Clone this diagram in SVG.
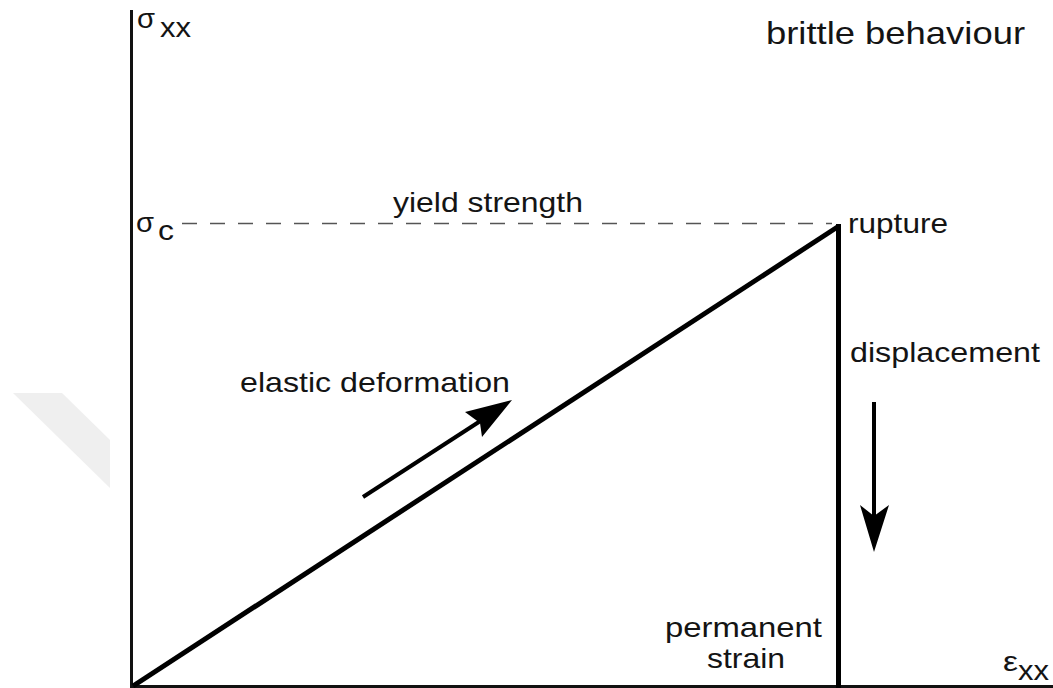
<svg xmlns="http://www.w3.org/2000/svg" width="1053" height="688" viewBox="0 0 1053 688">
<style>
text{font-family:"Liberation Sans",Arial,sans-serif;font-size:28px;fill:#141414}
.ax{stroke:#111;stroke-width:3;fill:none}
.thick{stroke:#000;stroke-width:5;fill:none;stroke-linecap:butt}
.arr{stroke:#000;stroke-width:4;fill:none}
.head{fill:#000}
</style>
<rect width="1053" height="688" fill="#fff"/>
<polygon id="watermark" points="13,393 62,393 110,440 110,488" fill="#efefef"/>
<g id="connectors">
  <line class="ax" x1="131.5" y1="10" x2="131.5" y2="688"/>
  <line class="ax" x1="130" y1="686.5" x2="1053" y2="686.5"/>
  <line x1="182" y1="223.5" x2="832" y2="223.5" stroke="#555" stroke-width="1.5" stroke-dasharray="15 13"/>
  <line class="thick" x1="133" y1="686" x2="839" y2="226"/>
  <line class="thick" x1="838.5" y1="224" x2="838.5" y2="688"/>
  <line class="arr" x1="363" y1="497" x2="485" y2="418"/>
  <polygon class="head" points="512,400 482,437 480,423 465,412"/>
  <line class="arr" x1="874" y1="402" x2="874" y2="520"/>
  <polygon class="head" points="874,552 860,505 874,516 889,505"/>
</g>
<g id="sigma-xx"><text x="137" y="28" textLength="18" lengthAdjust="spacingAndGlyphs">σ</text><text x="160" y="37" textLength="31" lengthAdjust="spacingAndGlyphs">xx</text></g>
<g id="sigma-c"><text x="136" y="232" textLength="18" lengthAdjust="spacingAndGlyphs">σ</text><text x="158" y="240" textLength="16" lengthAdjust="spacingAndGlyphs">c</text></g>
<g id="epsilon-xx"><text x="1003" y="671" textLength="15" lengthAdjust="spacingAndGlyphs">ε</text><text x="1018" y="680" textLength="31" lengthAdjust="spacingAndGlyphs">xx</text></g>
<g id="title"><text x="766" y="44" font-size="32" style="font-size:32px" textLength="259" lengthAdjust="spacingAndGlyphs">brittle behaviour</text></g>
<g id="yield"><text x="393" y="212" textLength="190" lengthAdjust="spacingAndGlyphs">yield strength</text></g>
<g id="rupture"><text x="848" y="233" textLength="100" lengthAdjust="spacingAndGlyphs">rupture</text></g>
<g id="elastic"><text x="240" y="392" textLength="270" lengthAdjust="spacingAndGlyphs">elastic deformation</text></g>
<g id="displacement"><text x="850" y="362" textLength="190" lengthAdjust="spacingAndGlyphs">displacement</text></g>
<g id="permanent"><text x="665" y="637" textLength="157" lengthAdjust="spacingAndGlyphs">permanent</text><text x="707" y="668" textLength="78" lengthAdjust="spacingAndGlyphs">strain</text></g>
</svg>
